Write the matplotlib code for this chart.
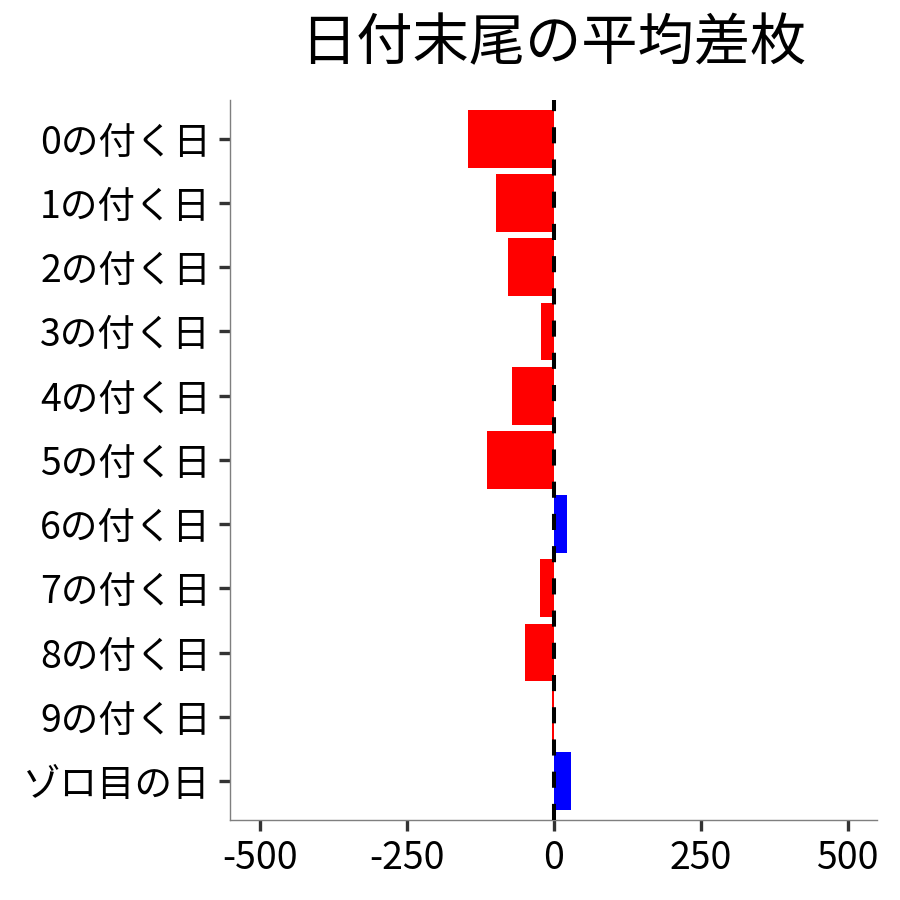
import numpy as np
import matplotlib
matplotlib.use("Agg")
import matplotlib.pyplot as plt

plt.rcParams['font.family'] = ['Noto Sans CJK JP', 'DejaVu Sans']

# Data
labels = ['0の付く日', '1の付く日', '2の付く日', '3の付く日', '4の付く日',
          '5の付く日', '6の付く日', '7の付く日', '8の付く日', '9の付く日', 'ゾロ目の日']
values = [-145, -98, -78, -22, -70, -114, 22, -24, -49, -3, 30]
xticks = [-500, -250, 0, 250, 500]
title = '日付末尾の平均差枚'

colors = ['#0000FF' if v > 0 else '#FF0000' for v in values]
ypos = np.arange(len(labels))

fig = plt.figure(figsize=(9, 9), dpi=100)
ax = fig.add_axes([230.3 / 900, 1 - 819.5 / 900, (877 - 230.3) / 900, (819.5 - 100.3) / 900])

ax.barh(ypos, values, height=0.9, color=colors, zorder=2)
ax.axvline(0, color='black', linewidth=2.9, dashes=(4, 4), zorder=3)

ax.set_ylim(len(labels) - 1 + 0.6, -0.6)
ax.set_xlim(-550, 550)
ax.set_yticks(ypos)
ax.set_yticklabels(labels)
ax.set_xticks(xticks)
ax.set_xticklabels([str(t) for t in xticks])

for side in ['top', 'right']:
    ax.spines[side].set_visible(False)
for side in ['left', 'bottom']:
    ax.spines[side].set_color('#7f7f7f')
    ax.spines[side].set_linewidth(1.0)

ax.tick_params(axis='both', length=8, width=2.4, color='#333333',
               labelsize=27, labelcolor='black', pad=6)

fig.text((230.3 + 877) / 2 / 900, 1 - 44 / 900, title, fontsize=40.5,
         ha='center', va='center')

fig.savefig('out.png', dpi=100)
